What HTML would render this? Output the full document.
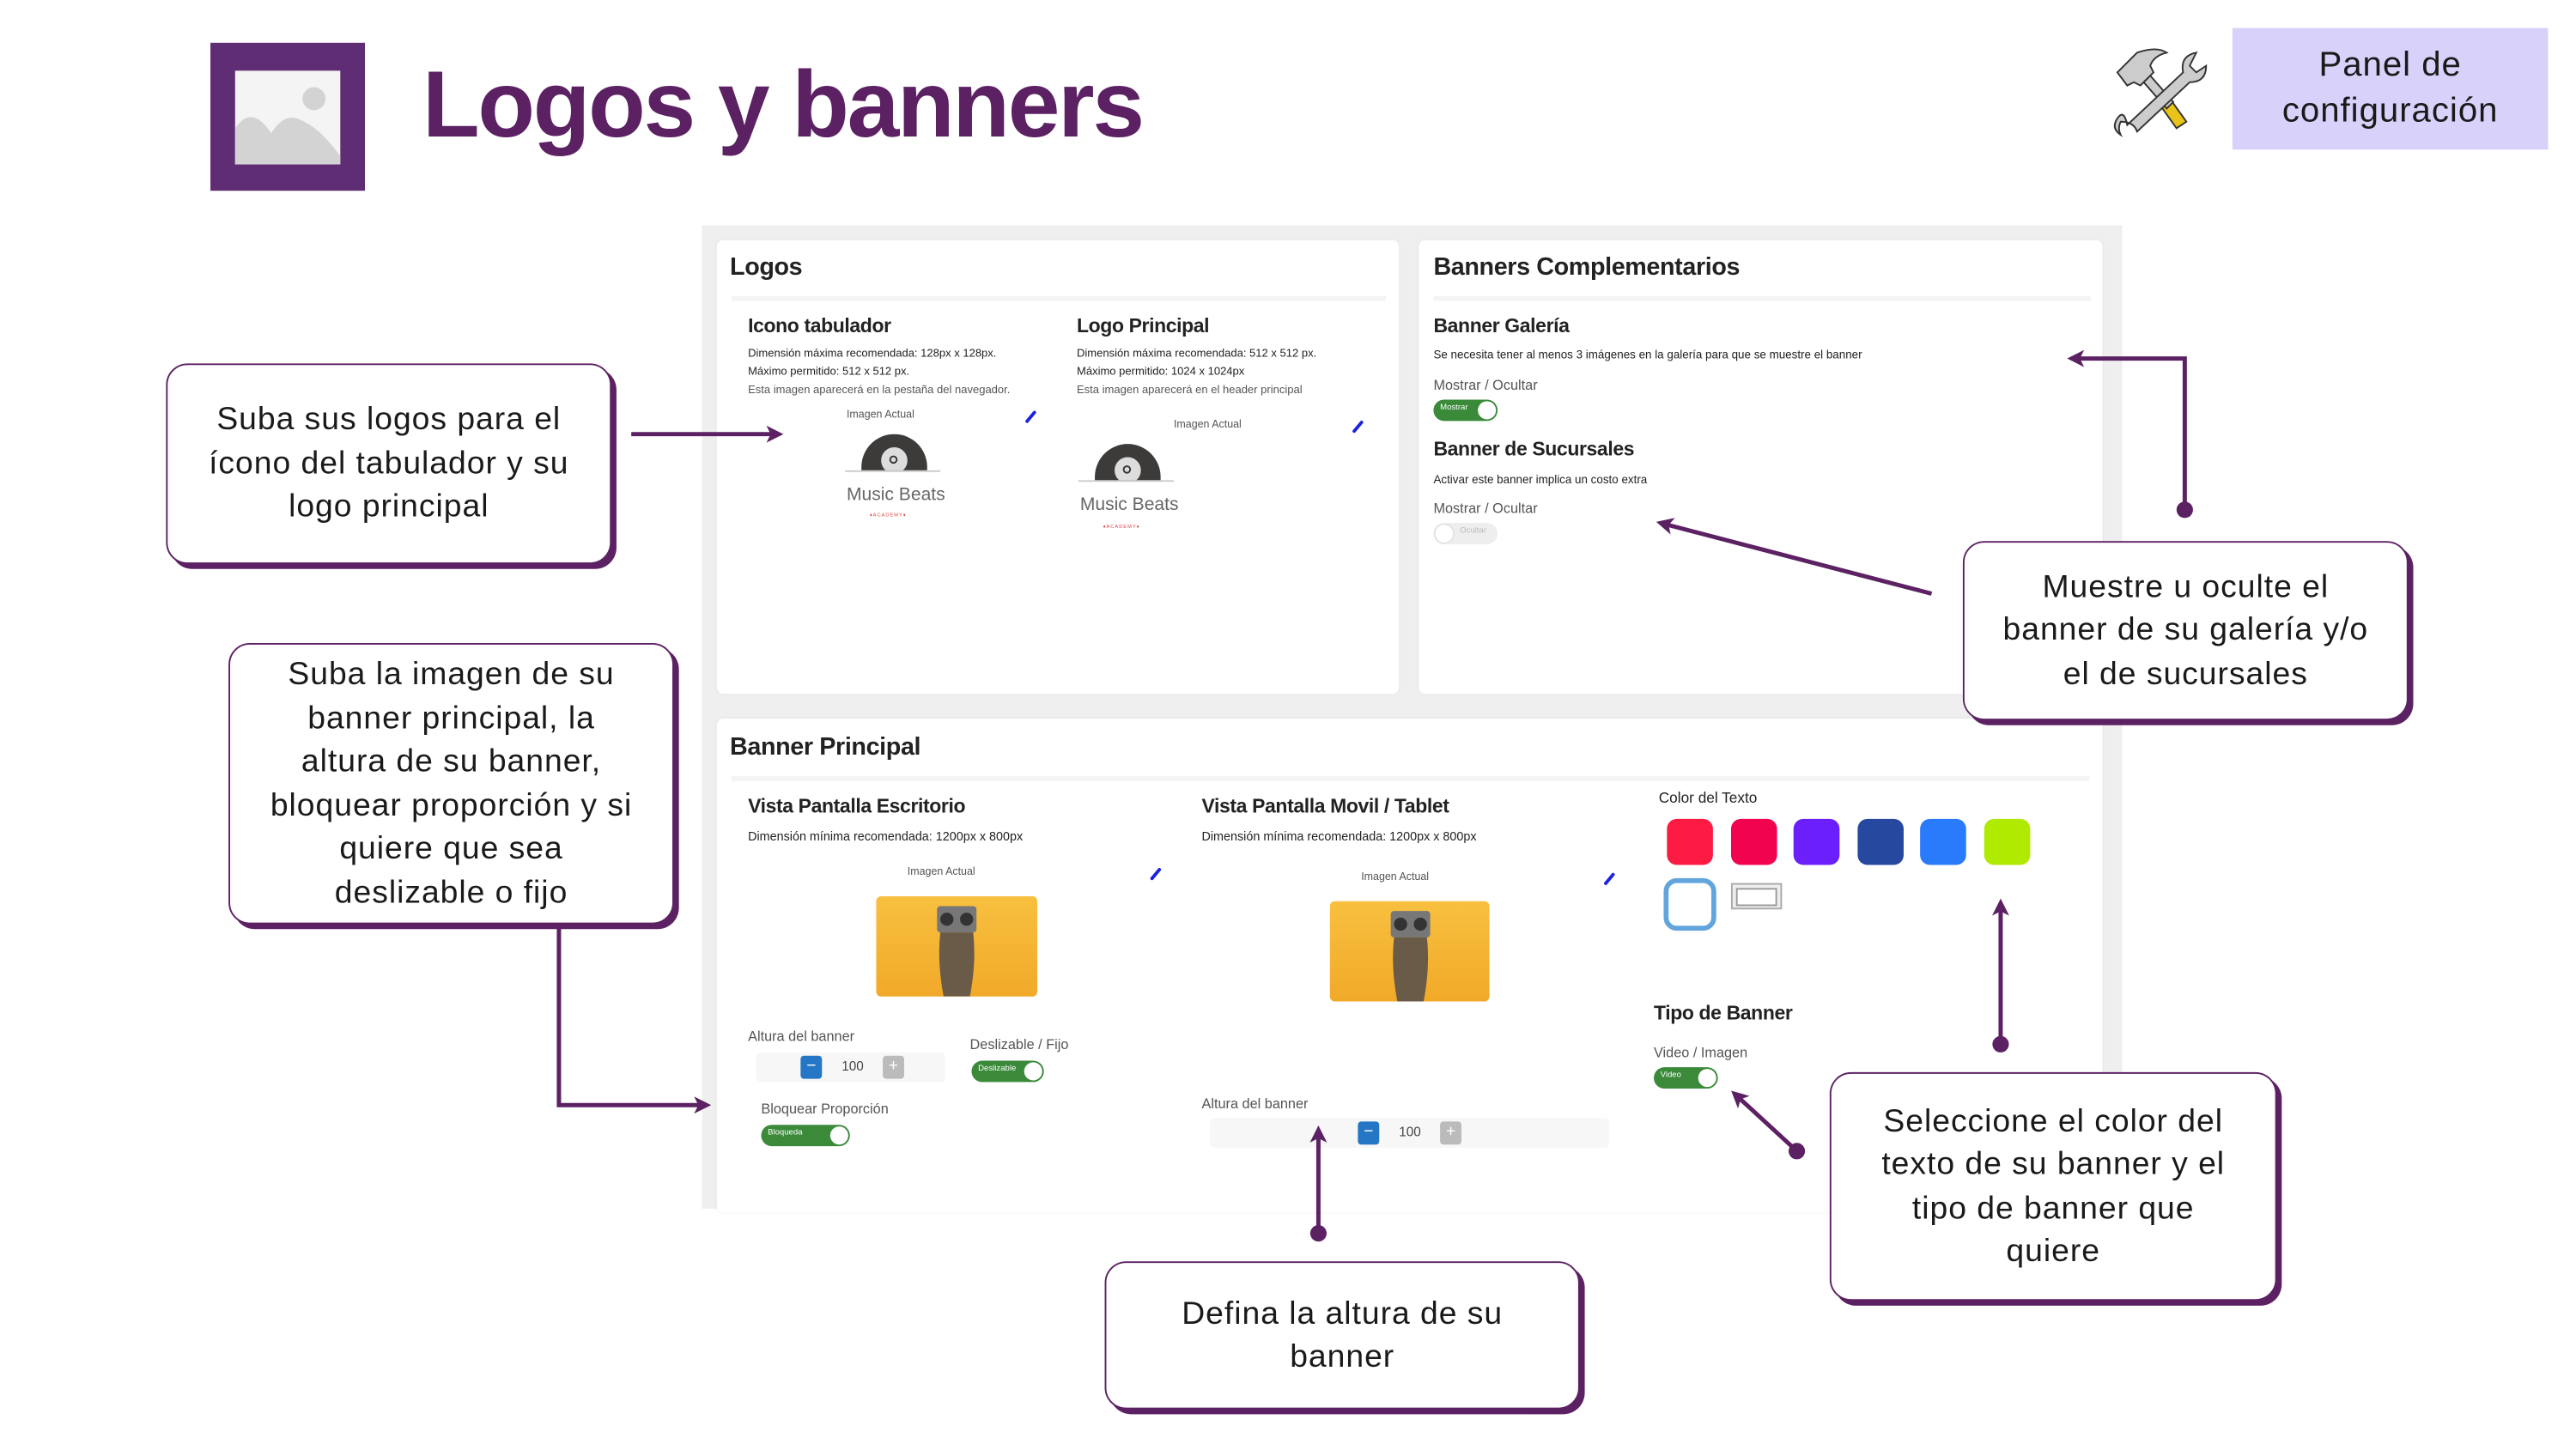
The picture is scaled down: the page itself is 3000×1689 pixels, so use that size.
<!DOCTYPE html>
<html><head><meta charset="utf-8">
<style>
html,body{margin:0;padding:0;background:#fff;overflow:hidden}
#s{position:absolute;left:0;top:0;width:1560px;height:882px;transform:scale(1.9145,1.9155);transform-origin:0 0;font-family:"Liberation Sans",sans-serif;color:#222}
.a{position:absolute}
.card{position:absolute;background:#fff;border-radius:4px;box-shadow:0 0 2px rgba(0,0,0,0.06)}
.h{position:absolute;font-size:15px;color:#222;white-space:nowrap;font-weight:bold;letter-spacing:-0.2px}
.h2{position:absolute;font-size:12px;color:#222;white-space:nowrap;font-weight:bold;letter-spacing:-0.2px}
.t{position:absolute;font-size:7.5px;color:#222;white-space:nowrap;line-height:11px}
.g{position:absolute;font-size:8.5px;color:#555;white-space:nowrap}
.tiny{position:absolute;font-size:6.5px;color:#555;white-space:nowrap}
.div{position:absolute;height:3px;background:#f4f4f4}
.tog{position:absolute;height:13px;border-radius:7px;background:#3a8a3a}
.tog i{position:absolute;right:1px;top:1px;width:11px;height:11px;border-radius:50%;background:#fff}
.tog b{position:absolute;left:4px;top:2px;font-size:5px;color:#fff;font-weight:normal}
.co{position:absolute;background:#fff;border:1.3px solid #5c2163;border-radius:13px;box-shadow:3px 3px 0 #5c2163;display:flex;align-items:center;justify-content:center;text-align:center;font-size:19.5px;line-height:26.5px;color:#1a1a1a;box-sizing:border-box;padding:0 4px;letter-spacing:0.5px;white-space:nowrap}
.sw{position:absolute;top:498px;width:28px;height:28px;border-radius:6px}
.pen{position:absolute;width:2px;height:9px;background:#1a22e0;transform:rotate(40deg);border-radius:1px}
.stp{position:absolute;height:18px;background:#f7f7f7;border-radius:3px}
.stp .m{position:absolute;top:2px;width:13px;height:14px;background:#2576c4;border-radius:2px;color:#fff;font-size:10px;line-height:13px;text-align:center}
.stp .p{position:absolute;top:2px;width:13px;height:14px;background:#bbb;border-radius:2px;color:#fff;font-size:10px;line-height:13px;text-align:center}
.stp span{position:absolute;top:4px;font-size:8px;color:#444}
.disk{position:absolute;width:40px;height:22px;border-radius:20px 20px 0 0;background:#3d3a3a;overflow:hidden}
.disk i{position:absolute;left:12px;top:8px;width:16px;height:16px;border-radius:50%;background:#ddd}
.disk i:after{content:"";position:absolute;left:5px;top:5px;width:5px;height:5px;border-radius:50%;border:1px solid #333;box-sizing:border-box}
.mb{position:absolute;font-size:11px;color:#666;white-space:nowrap}
.ac{position:absolute;font-size:3px;color:#d44;letter-spacing:0.5px}
.img{position:absolute;background:linear-gradient(180deg,#f8c040,#f1a928);border-radius:3px;overflow:hidden}
</style></head><body>
<div id="s">
<div class="a" style="left:128px;top:26px;width:94px;height:90px;background:#5f2d73"></div>
<div class="a" style="left:143px;top:43px;width:64px;height:57px;background:#f4f4f4"></div>
<svg class="a" style="left:143px;top:43px" width="64" height="57"><path d="M0 57 L0 35 Q10 20 22 38 Q30 25 40 30 Q52 35 64 52 L64 57Z" fill="#d3d3d3"/><circle cx="48" cy="17" r="7" fill="#d3d3d3"/></svg>
<div class="a" style="left:257px;top:31px;font-size:57px;font-weight:bold;color:#5c2163;letter-spacing:-1.2px;white-space:nowrap">Logos y banners</div>
<svg class="a" style="left:1284px;top:26px" width="60" height="58" viewBox="0 0 60 58">
<path d="M30 38 L40 52 L46 48 L36 34Z" fill="#eac31a" stroke="#333" stroke-width="1"/>
<path d="M20 24 L34 40 L38 36 L24 20Z" fill="#ccc" stroke="#333" stroke-width="1"/>
<path d="M4 18 L16 6 Q28 2 34 6 Q26 8 24 14 L26 18 L18 26 L14 24 L10 26Z" fill="#ccc" stroke="#333" stroke-width="1"/>
<path d="M10 50 L44 18 Q42 8 52 6 L48 14 L52 18 L58 14 Q58 24 48 24 L16 54 Q14 48 6 48 Q4 52 6 56 Q0 52 4 46 Q8 40 10 50Z" fill="#ccc" stroke="#333" stroke-width="1"/>
</svg>
<div class="a" style="left:1358px;top:17px;width:192px;height:74px;background:#d8d2fb;display:flex;align-items:center;justify-content:center;text-align:center;font-size:21px;line-height:28px;color:#1a1a1a;letter-spacing:0.5px">Panel de<br>configuración</div>

<div class="a" style="left:427px;top:137px;width:864px;height:598px;background:#efefef"></div>

<div class="card" style="left:436px;top:146px;width:415px;height:276px"></div>
<div class="h" style="left:444px;top:154px">Logos</div>
<div class="div" style="left:445px;top:180px;width:398px"></div>
<div class="h2" style="left:455px;top:191px">Icono tabulador</div>
<div class="t" style="left:455px;top:210px;font-size:6.8px">Dimensión máxima recomendada: 128px x 128px.<br>Máximo permitido: 512 x 512 px.<br><span style="color:#555">Esta imagen aparecerá en la pestaña del navegador.</span></div>
<div class="h2" style="left:655px;top:191px">Logo Principal</div>
<div class="t" style="left:655px;top:210px;font-size:6.8px">Dimensión máxima recomendada: 512 x 512 px.<br>Máximo permitido: 1024 x 1024px<br><span style="color:#555">Esta imagen aparecerá en el header principal</span></div>
<div class="tiny" style="left:515px;top:249px">Imagen Actual</div>
<div class="pen" style="left:626px;top:249px"></div>
<div class="disk" style="left:524px;top:264px"><i></i></div>
<div class="a" style="left:514px;top:286px;width:58px;height:1px;background:#ccc"></div>
<div class="mb" style="left:515px;top:295px">Music Beats</div>
<div class="ac" style="left:529px;top:311px">♦ACADEMY♦</div>
<div class="tiny" style="left:714px;top:255px">Imagen Actual</div>
<div class="pen" style="left:825px;top:255px"></div>
<div class="disk" style="left:666px;top:270px"><i></i></div>
<div class="a" style="left:656px;top:292px;width:58px;height:1px;background:#ccc"></div>
<div class="mb" style="left:657px;top:301px">Music Beats</div>
<div class="ac" style="left:671px;top:318px">♦ACADEMY♦</div>

<div class="card" style="left:863px;top:146px;width:416px;height:276px"></div>
<div class="h" style="left:872px;top:154px">Banners Complementarios</div>
<div class="div" style="left:872px;top:180px;width:400px"></div>
<div class="h2" style="left:872px;top:191px">Banner Galería</div>
<div class="t" style="left:872px;top:211px;font-size:7px">Se necesita tener al menos 3 imágenes en la galería para que se muestre el banner</div>
<div class="g" style="left:872px;top:229px">Mostrar / Ocultar</div>
<div class="tog" style="left:872px;top:243px;width:39px"><b>Mostrar</b><i></i></div>
<div class="h2" style="left:872px;top:266px">Banner de Sucursales</div>
<div class="t" style="left:872px;top:287px;font-size:7px">Activar este banner implica un costo extra</div>
<div class="g" style="left:872px;top:304px">Mostrar / Ocultar</div>
<div class="tog" style="left:872px;top:318px;width:39px;background:#eee"><b style="color:#bbb;left:16px">Ocultar</b><i style="left:1px;right:auto;box-shadow:0 0 1px #aaa"></i></div>

<div class="card" style="left:436px;top:437px;width:843px;height:300px"></div>
<div class="h" style="left:444px;top:446px">Banner Principal</div>
<div class="div" style="left:445px;top:472px;width:826px"></div>
<div class="h2" style="left:455px;top:483px">Vista Pantalla Escritorio</div>
<div class="t" style="left:455px;top:503px;font-size:7.5px">Dimensión mínima recomendada: 1200px x 800px</div>
<div class="tiny" style="left:552px;top:527px">Imagen Actual</div>
<div class="pen" style="left:702px;top:527px"></div>
<div class="img" style="left:533px;top:545px;width:98px;height:61px"><svg width="98" height="61"><rect x="37" y="6" width="24" height="16" rx="2" fill="#777"/><circle cx="43" cy="14" r="4" fill="#333"/><circle cx="55" cy="14" r="4" fill="#333"/><path d="M39 22 Q37 40 41 61 L57 61 Q61 40 59 22Z" fill="#6a5a48"/></svg></div>
<div class="h2" style="left:731px;top:483px">Vista Pantalla Movil / Tablet</div>
<div class="t" style="left:731px;top:503px;font-size:7.5px">Dimensión mínima recomendada: 1200px x 800px</div>
<div class="tiny" style="left:828px;top:530px">Imagen Actual</div>
<div class="pen" style="left:978px;top:530px"></div>
<div class="img" style="left:809px;top:548px;width:97px;height:61px"><svg width="97" height="61"><rect x="37" y="6" width="24" height="16" rx="2" fill="#777"/><circle cx="43" cy="14" r="4" fill="#333"/><circle cx="55" cy="14" r="4" fill="#333"/><path d="M39 22 Q37 40 41 61 L57 61 Q61 40 59 22Z" fill="#6a5a48"/></svg></div>
<div class="g" style="left:455px;top:625px">Altura del banner</div>
<div class="stp" style="left:460px;top:640px;width:115px"><div class="m" style="left:27px">−</div><span style="left:52px">100</span><div class="p" style="left:77px">+</div></div>
<div class="g" style="left:590px;top:630px">Deslizable / Fijo</div>
<div class="tog" style="left:591px;top:645px;width:44px"><b>Deslizable</b><i></i></div>
<div class="g" style="left:463px;top:669px">Bloquear Proporción</div>
<div class="tog" style="left:463px;top:684px;width:54px"><b>Bloqueda</b><i></i></div>
<div class="g" style="left:731px;top:666px">Altura del banner</div>
<div class="stp" style="left:736px;top:680px;width:243px"><div class="m" style="left:90px">−</div><span style="left:115px">100</span><div class="p" style="left:140px">+</div></div>
<div class="t" style="left:1009px;top:480px;font-size:9px">Color del Texto</div>
<div class="sw" style="left:1014px;background:#fd1a43"></div>
<div class="sw" style="left:1053px;background:#f2034f"></div>
<div class="sw" style="left:1091px;background:#6a1ffb"></div>
<div class="sw" style="left:1130px;background:#26489f"></div>
<div class="sw" style="left:1168px;background:#2a7bfc"></div>
<div class="sw" style="left:1207px;background:#b0ea00"></div>
<div class="a" style="left:1012px;top:534px;width:32px;height:32px;border:3px solid #62a5dd;border-radius:8px;box-sizing:border-box"></div>
<div class="a" style="left:1053px;top:537px;width:31px;height:16px;border:1px solid #aaa;background:#eee;box-sizing:border-box"><div style="margin:2px;height:9px;border:1px solid #999;background:#fff"></div></div>
<div class="h2" style="left:1006px;top:609px">Tipo de Banner</div>
<div class="g" style="left:1006px;top:635px">Video / Imagen</div>
<div class="tog" style="left:1006px;top:649px;width:39px"><b>Video</b><i></i></div>

<div class="co" style="left:101px;top:221px;width:271px;height:122px">Suba sus logos para el<br>ícono del tabulador y su<br>logo principal</div>
<div class="co" style="left:139px;top:391px;width:271px;height:171px">Suba la imagen de su<br>banner principal, la<br>altura de su banner,<br>bloquear proporción y si<br>quiere que sea<br>deslizable o fijo</div>
<div class="co" style="left:1194px;top:329px;width:271px;height:109px">Muestre u oculte el<br>banner de su galería y/o<br>el de sucursales</div>
<div class="co" style="left:672px;top:767px;width:289px;height:90px">Defina la altura de su<br>banner</div>
<div class="co" style="left:1113px;top:652px;width:272px;height:139px">Seleccione el color del<br>texto de su banner y el<br>tipo de banner que<br>quiere</div>

<svg class="a" style="left:0;top:0" width="1560" height="878">
<defs><marker id="ar" markerWidth="4" markerHeight="4" refX="3" refY="2" orient="auto" markerUnits="strokeWidth"><path d="M0 0 L4 2 L0 4 L1 2Z" fill="#5c2163"/></marker></defs>
<g stroke="#5c2163" stroke-width="2.6" fill="none">
<path d="M384 264 L474 264" marker-end="url(#ar)"/>
<path d="M1329 308 L1329 218 L1260 218" marker-end="url(#ar)"/>
<path d="M1175 361 L1010 318" marker-end="url(#ar)"/>
<path d="M340 563 L340 672 L430 672" marker-end="url(#ar)"/>
<path d="M802 748 L802 687" marker-end="url(#ar)"/>
<path d="M1217 633 L1217 549" marker-end="url(#ar)"/>
<path d="M1092 699 L1055 665" marker-end="url(#ar)"/>
</g>
<g fill="#5c2163">
<circle cx="1329" cy="310" r="5"/><circle cx="802" cy="750" r="5"/><circle cx="1217" cy="635" r="5"/><circle cx="1093" cy="700" r="5"/>
</g>
</svg>
</div>
</body></html>
